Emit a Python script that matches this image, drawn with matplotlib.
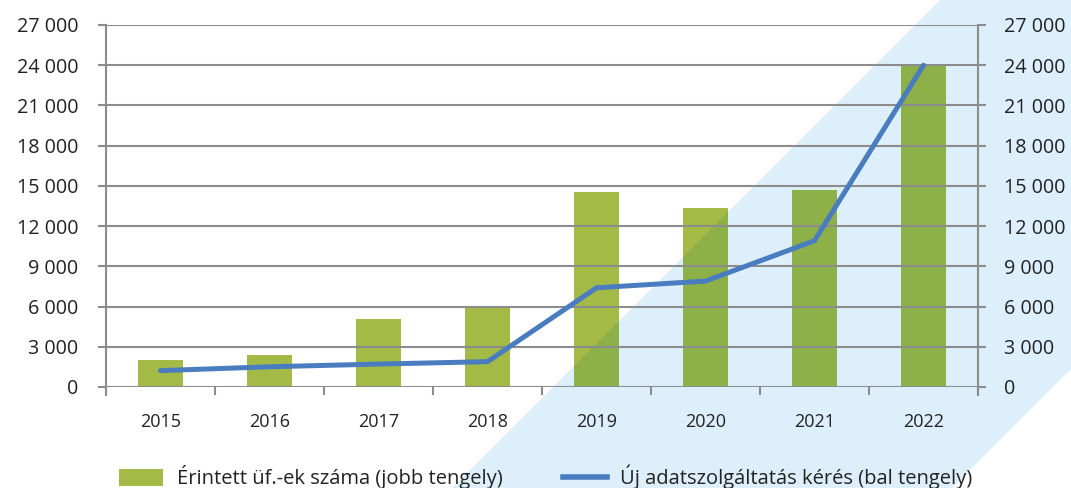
import numpy as np
import matplotlib
matplotlib.use("Agg")
import matplotlib.pyplot as plt
from matplotlib.patches import Polygon, Patch
from matplotlib.lines import Line2D
from matplotlib.ticker import FuncFormatter

plt.rcParams['font.family'] = ['Open Sans', 'DejaVu Sans']

years = ['2015', '2016', '2017', '2018', '2019', '2020', '2021', '2022']
affected = [2000, 2400, 5050, 5870, 14520, 13350, 14690, 24000]   # jobb tengely
requests = [1220, 1510, 1710, 1890, 7400, 7900, 10910, 24000]    # bal tengely

bar_label = 'Érintett üf.-ek száma (jobb tengely)'
line_label = 'Új adatszolgáltatás kérés (bal tengely)'

green = '#a4ba47'
green_dark = '#8db049'
blue = '#4a7cc0'
band = '#ddeffb'
grid = '#8c8c8c'
txt = '#222222'

fig = plt.figure(figsize=(10.71, 4.88), dpi=100)
W, H = 1071, 488

# light blue diagonal band behind the chart (pixel corners -> figure coords)
band_px = [(940, 0), (1071, 0), (1071, 369), (952, 488), (452, 488)]
band_poly = Polygon([(x / W, 1 - y / H) for x, y in band_px], closed=True,
                    transform=fig.transFigure, facecolor=band, edgecolor='none', zorder=0)
fig.patches.append(band_poly)

ax = fig.add_axes([106 / W, 1 - 387 / H, (978 - 106) / W, (387 - 25) / H])
ax2 = ax.twinx()
for a in (ax, ax2):
    a.patch.set_visible(False)
    a.set_ylim(0, 27000)
    a.set_yticks(np.arange(0, 27001, 3000))
    a.yaxis.set_major_formatter(FuncFormatter(lambda v, p: f'{int(v):,}'.replace(',', ' ')))
    for s in a.spines.values():
        s.set_visible(False)

x = np.arange(len(years))
ax.set_xlim(-0.5, len(years) - 0.5)

# bars on right axis, darker copy clipped to the band
ax2.bar(x, affected, width=0.41, color=green, zorder=2)
dark = ax2.bar(x, affected, width=0.41, color=green_dark, zorder=2.5)
clip = Polygon([(xx / W, 1 - yy / H) for xx, yy in band_px], closed=True,
               transform=fig.transFigure)
for b in dark:
    b.set_clip_path(clip)

# line on left axis, drawn on top
ax2.set_zorder(1)
ax.set_zorder(2)
ax.plot(x, requests, color=blue, lw=3.6, solid_capstyle='round', zorder=3)

ax.yaxis.grid(True, color=grid, lw=1.5)
ax.set_axisbelow(True)
ax2.yaxis.grid(False)

ax.spines['left'].set_visible(True)
ax.spines['left'].set_color(grid)
ax.spines['left'].set_linewidth(1.5)
ax.spines['left'].set_bounds(-600, 27000)
ax2.spines['right'].set_visible(True)
ax2.spines['right'].set_color(grid)
ax2.spines['right'].set_linewidth(1.5)
ax2.spines['right'].set_bounds(-600, 27000)

ax.set_xticks(x)
ax.set_xticklabels(years)
ax.set_xticks(np.arange(-0.5, len(years)), minor=True)
ax.tick_params(axis='x', which='major', length=0, pad=19, labelsize=13, labelcolor=txt)
ax.tick_params(axis='x', which='minor', length=6, width=1.5, color=grid, direction='out')
ax.tick_params(axis='y', length=6, width=1.5, color=grid, pad=14, labelsize=14.2, labelcolor=txt)
ax2.tick_params(axis='y', length=6, width=1.5, color=grid, pad=13, labelsize=14.2, labelcolor=txt)

handles = [Patch(facecolor=green, edgecolor='none', label=bar_label),
           Line2D([0], [0], color=blue, lw=4, label=line_label)]
fig.legend(handles=handles, loc='center left', bbox_to_anchor=(101 / W, 1 - 477 / H),
           ncol=2, frameon=False, fontsize=14.5, handlelength=2.2, handleheight=0.9,
           columnspacing=3.0, handletextpad=0.65, labelcolor=txt)

fig.savefig('out.png', dpi=100)
